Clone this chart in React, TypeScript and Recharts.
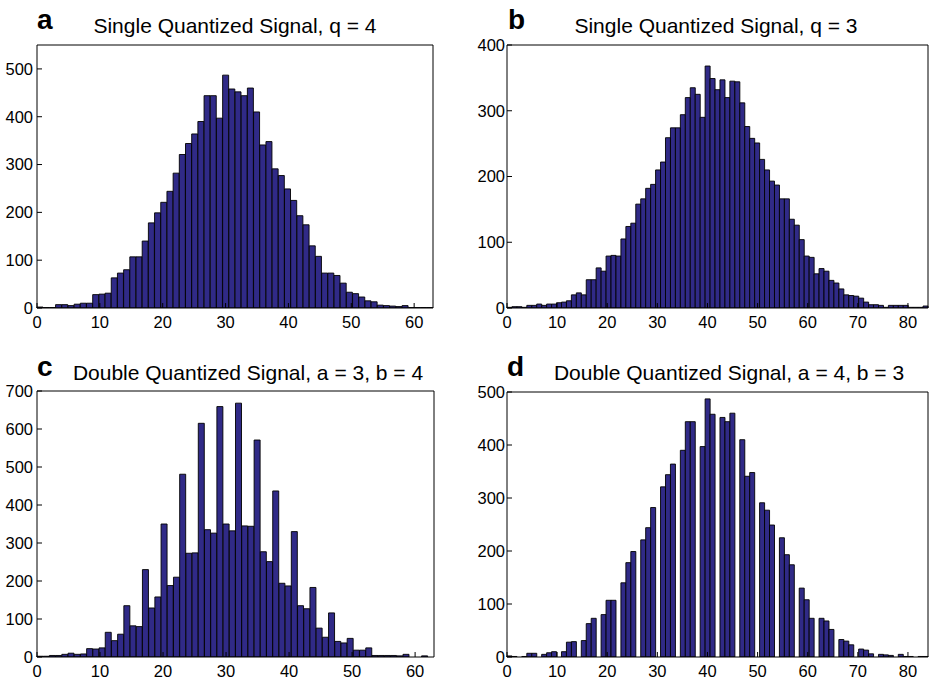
import React from 'react';
import { BarChart, Bar, XAxis, YAxis } from 'recharts';

const FONT = '"Liberation Sans", Arial, Helvetica, sans-serif';
const BAR_FILL = '#302a87';

// histogram counts per integer bin
const countsA = [
  2, 1, 1, 7, 7, 5, 8, 10, 10, 28,
  29, 31, 63, 73, 80, 107, 107, 140, 178, 199,
  221, 244, 282, 321, 344, 364, 390, 444, 444, 397,
  487, 458, 452, 444, 460, 410, 341, 348, 291, 277,
  249, 225, 193, 174, 130, 108, 73, 73, 68, 52,
  33, 30, 23, 15, 13, 6, 5, 4, 3, 5,
  1, 1, 1, 1,
];

const countsB = [
  1, 2, 2, 1, 4, 4, 6, 4, 6, 6,
  8, 9, 11, 20, 23, 20, 43, 43, 61, 56,
  79, 80, 79, 105, 124, 129, 158, 166, 182, 188,
  210, 222, 259, 274, 274, 294, 320, 335, 325, 290,
  368, 349, 332, 347, 320, 345, 344, 312, 276, 258,
  251, 226, 210, 193, 187, 166, 166, 135, 126, 104,
  79, 77, 52, 60, 56, 42, 38, 29, 20, 19,
  18, 15, 9, 5, 5, 4, 1, 4, 4, 4,
  4, 1, 1, 1, 3,
];

const countsC = [
  2, 2, 4, 4, 7, 10, 7, 8, 22, 21,
  24, 65, 43, 60, 135, 82, 80, 230, 129, 158,
  350, 188, 210, 481, 273, 274, 615, 335, 326, 659,
  350, 332, 668, 345, 344, 571, 277, 251, 437, 194,
  187, 330, 135, 127, 183, 76, 52, 116, 41, 37,
  49, 18, 18, 24, 4, 4, 4, 4, 3, 7,
  0, 0, 3, 0,
];

const countsD = [
  2, 1, 0, 1, 7, 7, 0, 5, 8, 10,
  0, 10, 28, 29, 0, 31, 63, 73, 0, 80,
  107, 107, 0, 140, 178, 199, 0, 221, 244, 282,
  0, 321, 344, 364, 0, 390, 444, 444, 0, 397,
  487, 458, 0, 452, 444, 460, 0, 410, 341, 348,
  0, 291, 277, 249, 0, 225, 193, 174, 0, 130,
  108, 73, 0, 73, 68, 52, 0, 33, 30, 23,
  0, 15, 13, 6, 0, 5, 4, 3, 0, 5,
  1, 1, 0, 1, 1,
];

const xTicks64 = [0, 10, 20, 30, 40, 50, 60];
const xTicks85 = [0, 10, 20, 30, 40, 50, 60, 70, 80];
const yTicksA = [0, 100, 200, 300, 400, 500];
const yTicksB = [0, 100, 200, 300, 400];
const yTicksC = [0, 100, 200, 300, 400, 500, 600, 700];
const yTicksD = [0, 100, 200, 300, 400, 500];

const panelLetters = ['a', 'b', 'c', 'd'];
const panelTitles = [
  'Single Quantized Signal, q = 4',
  'Single Quantized Signal, q = 3',
  'Double Quantized Signal, a = 3, b = 4',
  'Double Quantized Signal, a = 4, b = 3',
];

const toRows = (counts: number[]) => counts.map((count, bin) => ({ bin, count }));

interface PanelProps {
  counts: number[];
  xMax: number;
  xTicks: number[];
  yMax: number;
  yTicks: number[];
  left: number;
  top: number;
  width: number;
  height: number;
  plotLeft: number;
  plotRight: number;
  plotTop: number;
  plotBottom: number;
  labelGap: number;
}

const AXIS_H = 24;
const tickStyle = { fill: '#000', fontSize: 16.5, fontFamily: FONT };

const Panel: React.FC<PanelProps> = (p) => (
  <div style={{ position: 'absolute', left: p.left, top: p.top }}>
    <BarChart
      width={p.width}
      height={p.height}
      data={toRows(p.counts)}
      margin={{
        top: p.plotTop - 1,
        right: p.width - p.plotRight - 1,
        bottom: p.height - p.plotBottom - AXIS_H,
        left: 0,
      }}
      barCategoryGap={0}
      barGap={0}
    >
      <XAxis
        xAxisId="x"
        type="number"
        domain={[0, p.xMax]}
        ticks={p.xTicks}
        allowDataOverflow
        height={AXIS_H}
        stroke="#000"
        tickSize={-5}
        tickMargin={13}
        tick={tickStyle}
      />
      <XAxis xAxisId="bins" dataKey="bin" type="category" hide height={0} padding={{ left: 0, right: 0 }} />
      <XAxis
        xAxisId="top"
        orientation="top"
        type="number"
        domain={[0, p.xMax]}
        ticks={p.xTicks}
        allowDataOverflow
        height={1}
        stroke="#000"
        tickSize={-5}
        tick={false}
      />
      <YAxis
        yAxisId="y"
        type="number"
        domain={[0, p.yMax]}
        ticks={p.yTicks}
        allowDataOverflow
        width={p.plotLeft}
        stroke="#000"
        tickSize={-5}
        tickMargin={5 + p.labelGap}
        tick={tickStyle}
      />
      <YAxis
        yAxisId="right"
        orientation="right"
        type="number"
        domain={[0, p.yMax]}
        ticks={p.yTicks}
        allowDataOverflow
        width={1}
        stroke="#000"
        tickSize={-5}
        tick={false}
      />
      <Bar
        xAxisId="bins"
        yAxisId="y"
        dataKey="count"
        fill={BAR_FILL}
        stroke="#000"
        strokeWidth={0.9}
        isAnimationActive={false}
      />
    </BarChart>
  </div>
);

// letter x, letter baseline, title centre x, title baseline
const labelPos = [
  [37, 29, 235, 33],
  [508, 29, 716, 33],
  [37, 376, 248, 380],
  [507, 376, 729, 380],
];

export default function App() {
  return (
    <div style={{ position: 'absolute', left: 0, top: 0, width: 930, height: 683, background: '#fff' }}>
      <Panel counts={countsA} xMax={64} xTicks={xTicks64} yMax={550} yTicks={yTicksA}
        left={0} top={0} width={465} height={340}
        plotLeft={37} plotRight={433} plotTop={45} plotBottom={308} labelGap={4} />
      <Panel counts={countsB} xMax={85} xTicks={xTicks85} yMax={400} yTicks={yTicksB}
        left={465} top={0} width={465} height={340}
        plotLeft={42} plotRight={463} plotTop={45} plotBottom={308} labelGap={2} />
      <Panel counts={countsC} xMax={64} xTicks={xTicks64} yMax={700} yTicks={yTicksC}
        left={0} top={345} width={465} height={338}
        plotLeft={37} plotRight={434} plotTop={46} plotBottom={312} labelGap={4} />
      <Panel counts={countsD} xMax={85} xTicks={xTicks85} yMax={500} yTicks={yTicksD}
        left={465} top={345} width={465} height={338}
        plotLeft={42} plotRight={463} plotTop={47} plotBottom={312} labelGap={2} />
      <svg width={930} height={683} style={{ position: 'absolute', left: 0, top: 0, pointerEvents: 'none' }}>
        {labelPos.map(([lx, ly, tx, ty], i) => (
          <g key={panelLetters[i]} fontFamily={FONT} fill="#000">
            <text x={lx} y={ly} fontSize={28} fontWeight="bold">{panelLetters[i]}</text>
            <text x={tx} y={ty} fontSize={21} textAnchor="middle">{panelTitles[i]}</text>
          </g>
        ))}
      </svg>
    </div>
  );
}
